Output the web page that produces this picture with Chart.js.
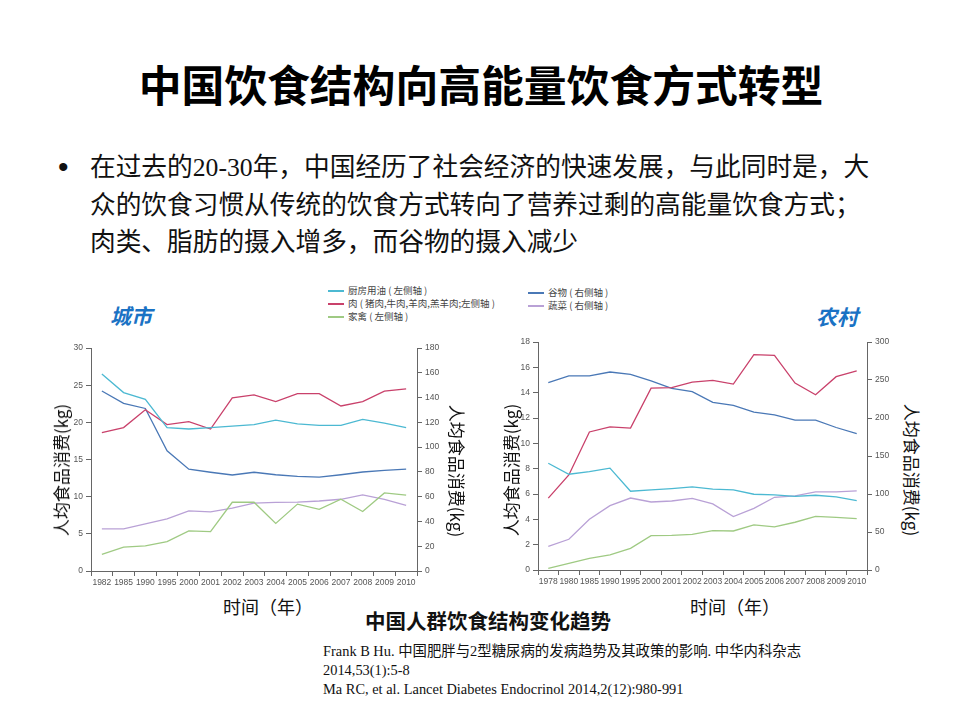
<!DOCTYPE html>
<html>
<head>
<meta charset="utf-8">
<script src="https://cdn.jsdelivr.net/npm/chart.js@4.4.1/dist/chart.umd.min.js"></script>
<style>
body { margin: 0; background: #fff; }
#page { position: relative; width: 960px; height: 720px; overflow: hidden; font-family: "Noto Sans CJK SC", sans-serif; color: #111; }
.abs { position: absolute; white-space: nowrap; }
#title { left: 0; width: 962px; top: 60px; text-align: center; font-size: 42.8px; line-height: 46px; font-weight: 700; color: #000; }
#bullet { left: 58px; top: 148px; font-family: "Liberation Sans", sans-serif; font-size: 30px; line-height: 37.5px; }
#para { left: 90px; top: 149px; font-family: "Liberation Serif", "Noto Sans CJK SC", serif; font-size: 25.7px; line-height: 37.5px; color: #111; }
.city { font-size: 21px; font-weight: 700; font-style: italic; color: #1a72c4; line-height: 24px; }
.ytitle { font-size: 17px; line-height: 20px; color: #111; }
.xtitle { font-size: 18px; line-height: 22px; color: #111; transform: translate(-50%, -50%); }
.leg { font-size: 9.5px; line-height: 12px; color: #444; }
.leg i { display: inline-block; width: 16px; height: 2px; vertical-align: middle; margin-right: 4px; }
#caption { left: 0; width: 976px; top: 608px; text-align: center; font-size: 20.5px; line-height: 24px; font-weight: 700; color: #111; }
#refs { left: 323px; top: 642px; font-family: "Liberation Serif", "Noto Sans CJK SC", serif; font-size: 14.4px; line-height: 19px; color: #111; }
canvas { position: absolute; }
</style>
</head>
<body>
<div id="page">
  <div id="title" class="abs">中国饮食结构向高能量饮食方式转型</div>
  <div id="bullet" class="abs">•</div>
  <div id="para" class="abs">在过去的20-30年，中国经历了社会经济的快速发展，与此同时是，大<br>众的饮食习惯从传统的饮食方式转向了营养过剩的高能量饮食方式；<br>肉类、脂肪的摄入增多，而谷物的摄入减少</div>

  <div class="abs leg" style="left:328px;top:284px;"><i style="background:#4cb9d2"></i>厨房用油 ( 左侧轴 )</div>
  <div class="abs leg" style="left:328px;top:297px;"><i style="background:#c9416b"></i>肉 ( 猪肉,牛肉,羊肉,羔羊肉;左侧轴 )</div>
  <div class="abs leg" style="left:328px;top:310px;"><i style="background:#9fca83"></i>家禽 ( 左侧轴 )</div>
  <div class="abs leg" style="left:528px;top:286px;"><i style="background:#4a78b6"></i>谷物 ( 右侧轴 )</div>
  <div class="abs leg" style="left:528px;top:299px;"><i style="background:#b9a1d6"></i>蔬菜 ( 右侧轴 )</div>

  <div class="abs city" style="left:110px;top:303px;">城市</div>
  <div class="abs city" style="left:816px;top:304px;">农村</div>

  <canvas id="urban" width="392" height="255" style="left:60px;top:338px;"></canvas>
  <canvas id="rural" width="400" height="260" style="left:500px;top:332px;"></canvas>

  <div class="abs ytitle" style="left:61px;top:470px;transform:translate(-50%,-50%) rotate(-90deg);">人均食品消费(kg)</div>
  <div class="abs ytitle" style="left:457px;top:471px;transform:translate(-50%,-50%) rotate(90deg);">人均食品消费(kg)</div>
  <div class="abs ytitle" style="left:511px;top:470px;transform:translate(-50%,-50%) rotate(-90deg);">人均食品消费(kg)</div>
  <div class="abs ytitle" style="left:912px;top:470px;transform:translate(-50%,-50%) rotate(90deg);">人均食品消费(kg)</div>

  <div class="abs xtitle" style="left:268px;top:606px;">时间（年）</div>
  <div class="abs xtitle" style="left:735px;top:606px;">时间（年）</div>

  <div id="caption" class="abs">中国人群饮食结构变化趋势</div>
  <div id="refs" class="abs">Frank B Hu. 中国肥胖与2型糖尿病的发病趋势及其政策的影响. 中华内科杂志<br>2014,53(1):5-8<br>Ma RC, et al. Lancet Diabetes Endocrinol 2014,2(12):980-991</div>
</div>

<script>
// 城市
const urbanYears = ['1982','1985','1990','1995','2000','2001','2002','2003','2004','2005','2006','2007','2008','2009','2010'];
const urbanOil = [26.5, 24.0, 23.1, 19.3, 19.1, 19.3, 19.5, 19.7, 20.3, 19.8, 19.6, 19.6, 20.4, 19.9, 19.3];
const urbanMeat = [18.6, 19.3, 21.7, 19.7, 20.1, 19.1, 23.3, 23.7, 22.8, 23.85, 23.85, 22.2, 22.8, 24.2, 24.5];
const urbanPoultry = [2.25, 3.2, 3.37, 3.95, 5.4, 5.3, 9.25, 9.25, 6.4, 9.0, 8.3, 9.65, 8.0, 10.5, 10.2];
const urbanGrain = [145.3, 135.3, 131.2, 97, 82.2, 79.7, 77.5, 79.7, 77.7, 76.3, 75.8, 77.7, 79.9, 81.2, 82.3];
const urbanVeg = [34, 34, 38, 42, 48.6, 47.8, 50.8, 54.8, 55.4, 55.6, 56.5, 57.9, 61.4, 57.9, 52.9];

// 农村
const ruralYears = ['1978','1980','1985','1990','1995','2000','2001','2002','2003','2004','2005','2006','2007','2008','2009','2010'];
const ruralOil = [8.43, 7.56, 7.77, 8.04, 6.22, 6.32, 6.43, 6.56, 6.38, 6.32, 5.98, 5.93, 5.82, 5.9, 5.77, 5.48];
const ruralMeat = [5.67, 7.5, 10.9, 11.3, 11.2, 14.36, 14.4, 14.83, 14.97, 14.68, 17.0, 16.94, 14.76, 13.83, 15.26, 15.73];
const ruralPoultry = [0.13, 0.53, 0.92, 1.19, 1.71, 2.71, 2.74, 2.82, 3.11, 3.08, 3.56, 3.4, 3.77, 4.24, 4.16, 4.06];
const ruralGrain = [246.5, 255.3, 255.3, 260.5, 257.5, 248.7, 239, 234.6, 220.5, 216.5, 207.7, 204.2, 197.2, 197.2, 187.5, 179.6];
const ruralVeg = [31.1, 40.4, 66.7, 84.6, 94.7, 89.5, 90.8, 94.3, 87, 70.3, 81.2, 95.7, 97.5, 102.8, 102.8, 104.1];

// 轴范围 [min, max, step]
const urbanLeftAxis = [0, 30, 5];
const urbanRightAxis = [0, 180, 20];
const ruralLeftAxis = [0, 18, 2];
const ruralRightAxis = [0, 300, 50];

const colOil = '#4cb9d2', colMeat = '#c9416b', colPoultry = '#9fca83', colGrain = '#4a78b6', colVeg = '#b9a1d6';

function line(data, color, axis) {
  return { data: data, borderColor: color, backgroundColor: color, borderWidth: 1.3,
           pointRadius: 0, tension: 0, yAxisID: axis };
}

function tickFont() {
  return { family: 'Liberation Sans', size: 8.5 };
}

function makeChart(id, years, sets, leftAx, rightAx, leftW, rightW) {
  const ctx = document.getElementById(id).getContext('2d');
  return new Chart(ctx, {
    type: 'line',
    data: { labels: years, datasets: sets },
    options: {
      responsive: false,
      animation: false,
      layout: { padding: { top: 10, left: 0, right: 0, bottom: 0 } },
      plugins: { legend: { display: false }, tooltip: { enabled: false } },
      scales: {
        x: {
          offset: true,
          grid: { offset: true, drawOnChartArea: false, drawTicks: true, tickLength: 5, color: '#666' },
          border: { color: '#666', width: 1 },
          ticks: { autoSkip: false, maxRotation: 0, minRotation: 0, color: '#555', font: tickFont(), padding: 2 },
          afterFit: s => { s.height = 22; }
        },
        yL: {
          position: 'left', min: leftAx[0], max: leftAx[1],
          grid: { drawOnChartArea: false, tickLength: 5, color: '#666' },
          border: { color: '#666', width: 1 },
          ticks: { stepSize: leftAx[2], color: '#555', font: tickFont(), padding: 3 },
          afterFit: s => { s.width = leftW; }
        },
        yR: {
          position: 'right', min: rightAx[0], max: rightAx[1],
          grid: { drawOnChartArea: false, tickLength: 5, color: '#666' },
          border: { color: '#666', width: 1 },
          ticks: { stepSize: rightAx[2], color: '#555', font: tickFont(), padding: 3 },
          afterFit: s => { s.width = rightW; }
        }
      }
    }
  });
}

makeChart('urban', urbanYears, [
  line(urbanOil, colOil, 'yL'),
  line(urbanMeat, colMeat, 'yL'),
  line(urbanPoultry, colPoultry, 'yL'),
  line(urbanGrain, colGrain, 'yR'),
  line(urbanVeg, colVeg, 'yR')
], urbanLeftAxis, urbanRightAxis, 31, 35);

makeChart('rural', ruralYears, [
  line(ruralOil, colOil, 'yL'),
  line(ruralMeat, colMeat, 'yL'),
  line(ruralPoultry, colPoultry, 'yL'),
  line(ruralGrain, colGrain, 'yR'),
  line(ruralVeg, colVeg, 'yR')
], ruralLeftAxis, ruralRightAxis, 38, 33);
</script>
</body>
</html>
